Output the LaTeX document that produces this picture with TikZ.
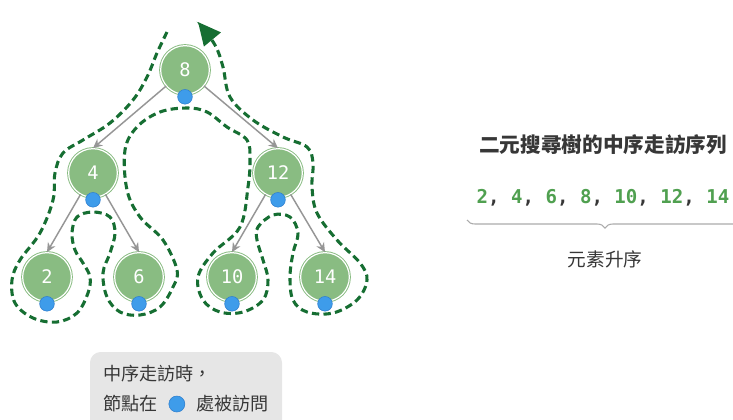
\documentclass[tikz,border=0pt]{standalone}
\usepackage{fontspec}
\setmainfont{Noto Sans CJK TC}
\setmonofont{DejaVu Sans Mono}
\usetikzlibrary{positioning,arrows.meta,decorations.pathreplacing}

\definecolor{nodegreen}{RGB}{137,188,130}
\definecolor{pathgreen}{RGB}{22,110,50}
\definecolor{seqgreen}{RGB}{80,160,80}
\definecolor{dotblue}{RGB}{62,156,234}
\definecolor{dotedge}{RGB}{45,125,205}
\definecolor{edgegray}{RGB}{150,150,150}
\definecolor{textgray}{RGB}{55,55,55}
\definecolor{boxgray}{RGB}{230,230,230}

\tikzset{
  treenode/.style={circle,fill=nodegreen,draw=nodegreen,double=white,double distance=0.9pt,line width=0.7pt,
    minimum size=36.5pt,inner sep=0pt,text=white,font=\ttfamily\fontsize{14}{15}\selectfont},
  visitdot/.style={circle,fill=dotblue,draw=dotedge,line width=0.4pt,minimum size=11pt,inner sep=0pt},
  edge/.style={draw=edgegray,line width=1.1pt,-{Stealth[length=7pt,width=6.5pt]}},
  walk/.style={draw=pathgreen,line width=2.3pt,dash pattern=on 5.5pt off 3.2pt},
  seq/.style={font=\ttfamily\bfseries\fontsize{14.3}{15}\selectfont,text=seqgreen},
  legendtext/.style={font=\fontsize{13.6}{15}\selectfont,text=textgray,inner sep=0pt}
}

\begin{document}
\begin{tikzpicture}[x=0.75pt,y=-0.75pt]
  \useasboundingbox (0,0) rectangle (733,419);

  % in-order walk around the tree
  \draw[walk,-{Triangle[length=17pt,width=16pt]}] plot[smooth,tension=0.6] coordinates {
    (167,32) (157,53) (147,77) (133,100) (110,123) (83,140) (63,153) (55,173) (53,200)
    (40,233) (20,260) (12,280) (15,303) (33,318) (57,322) (77,313) (88,293) (90,277)
    (83,263) (75,250) (72,233) (77,217) (93,212) (110,217) (115,233) (110,253) (103,273)
    (107,297) (120,312) (140,315) (160,307) (173,287) (177,270) (163,240) (140,217)
    (127,190) (125,150) (137,127) (160,112) (187,108) (207,112) (227,127) (247,140)
    (250,160) (248,187) (240,227) (213,253) (198,277) (203,300) (220,312) (243,312)
    (263,300) (268,280) (263,260) (257,240) (258,227) (273,215) (290,217) (298,233)
    (293,253) (290,277) (293,300) (307,312) (333,313) (357,300) (367,280) (360,263)
    (337,240) (317,213) (312,187) (313,163) (307,147) (283,137) (253,120) (230,97)
    (223,67) (215,45) (198,22)};

  \foreach \n/\x/\y in {8/185/70, 4/93/173, 12/278/173, 2/47/277, 6/139/277, 10/232/277, 14/325/277}{
    \node[treenode] (n\n) at (\x,\y) {\n};
  }
  \foreach \p/\c in {8/4, 8/12, 4/2, 4/6, 12/10, 12/14}{
    \draw[edge] (n\p) -- (n\c.north);
  }
  \foreach \n in {8,4,12,2,6,10,14}{
    \node[visitdot] (d\n) at ([yshift=-1.5pt]n\n.south) {};
  }

  % in-order sequence
  \node[font=\bfseries\fontsize{15.5}{17}\selectfont,text=textgray] (title) at (603,145) {二元搜尋樹的中序走訪序列};
  \node[seq] (values) at (603,198) {2\textcolor{textgray}{,} 4\textcolor{textgray}{,} 6\textcolor{textgray}{,} 8\textcolor{textgray}{,} 10\textcolor{textgray}{,} 12\textcolor{textgray}{,} 14};
  \coordinate (bl) at (467,220);
  \coordinate (br) at (743,220);
  \draw[edgegray!80,line width=0.8pt,decorate,decoration={brace,mirror,amplitude=6pt}] (bl) -- (br);
  \node[font=\fontsize{14}{15}\selectfont,text=textgray] (ascend) at (605,259) {元素升序};

  % legend
  \fill[boxgray,rounded corners=8pt] (90,352) rectangle (282,440);
  \node[legendtext,anchor=west] (leg1) at (103,374) {中序走訪時，};
  \node[legendtext,anchor=west] (leg2) at (103,404) {節點在};
  \node[visitdot,minimum size=12pt,right=8pt of leg2] (legdot) {};
  \node[legendtext,right=8pt of legdot] (leg3) {處被訪問};
\end{tikzpicture}
\end{document}
